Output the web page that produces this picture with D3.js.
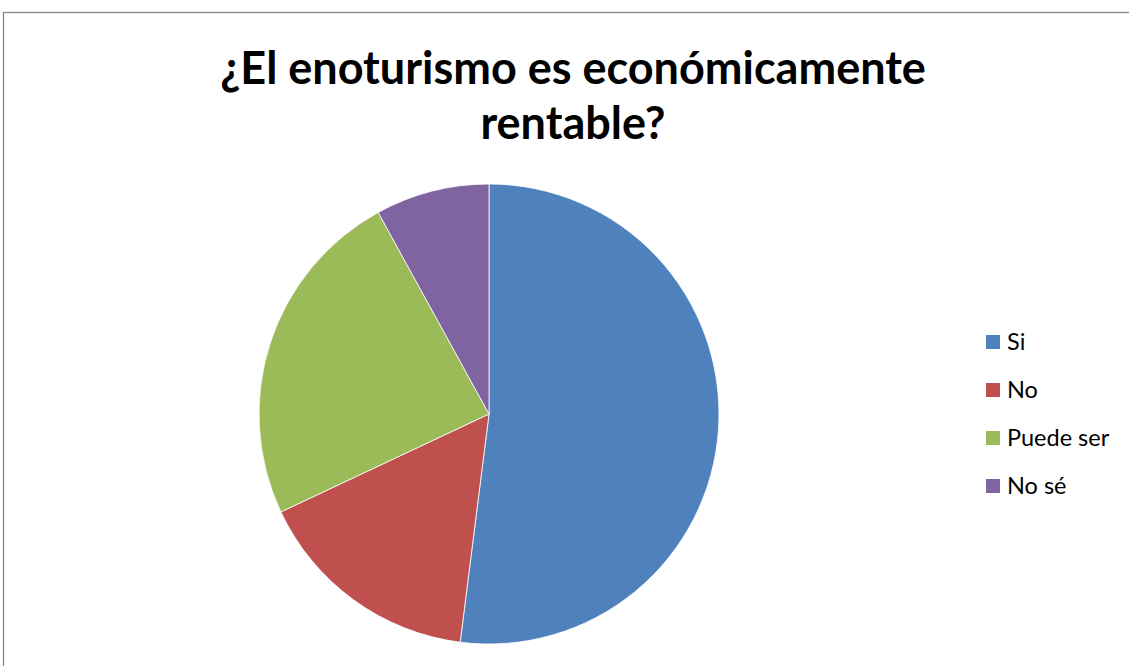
<!DOCTYPE html>
<html><head><meta charset="utf-8">
<script src="https://cdn.jsdelivr.net/npm/d3@7"></script>
<style>html,body{margin:0;padding:0;background:#fff;}svg{display:block;}</style>
</head><body>
<svg id="c" width="1129" height="666"></svg>
<script>
const categories = ["Si", "No", "Puede ser", "No sé"];
const values = [52, 16, 24, 8];
const colors = ["#4F81BD", "#C0504D", "#9BBB59", "#8064A2"];
const titleLines = ["¿El enoturismo es económicamente", "rentable?"];

const svg = d3.select("#c");
svg.append("rect").attr("x", 3.5).attr("y", 12.5).attr("width", 1140).attr("height", 670)
  .attr("fill", "#fff").attr("stroke", "#868686").attr("stroke-width", 1.3);

const title = svg.append("text").attr("font-family", "Lato, 'Open Sans', sans-serif")
  .attr("font-weight", "bold").attr("font-size", 45).attr("fill", "#000").attr("text-anchor", "middle");
title.selectAll("tspan").data(titleLines).join("tspan")
  .attr("x", 573).attr("y", (d, i) => 84 + i * 55).text(d => d);

const cx = 489, cy = 414, r = 230;
const pie = d3.pie().sort(null).value(d => d)(values);
const arc = d3.arc().innerRadius(0).outerRadius(r);
svg.append("g").attr("transform", `translate(${cx},${cy})`)
  .selectAll("path").data(pie).join("path")
  .attr("d", arc).attr("fill", (d, i) => colors[i])
  .attr("stroke", "#fff").attr("stroke-width", 0.8);

const lg = svg.append("g");
const items = lg.selectAll("g").data(categories).join("g")
  .attr("transform", (d, i) => `translate(986,${342 + i * 48})`);
items.append("rect").attr("x", 0).attr("y", -7).attr("width", 14).attr("height", 14)
  .attr("fill", (d, i) => colors[i]);
items.append("text").attr("x", 21).attr("y", 8).attr("font-family", "Lato, 'Open Sans', sans-serif")
  .attr("font-size", 23.5).attr("fill", "#000").text(d => d);
</script>
</body></html>
